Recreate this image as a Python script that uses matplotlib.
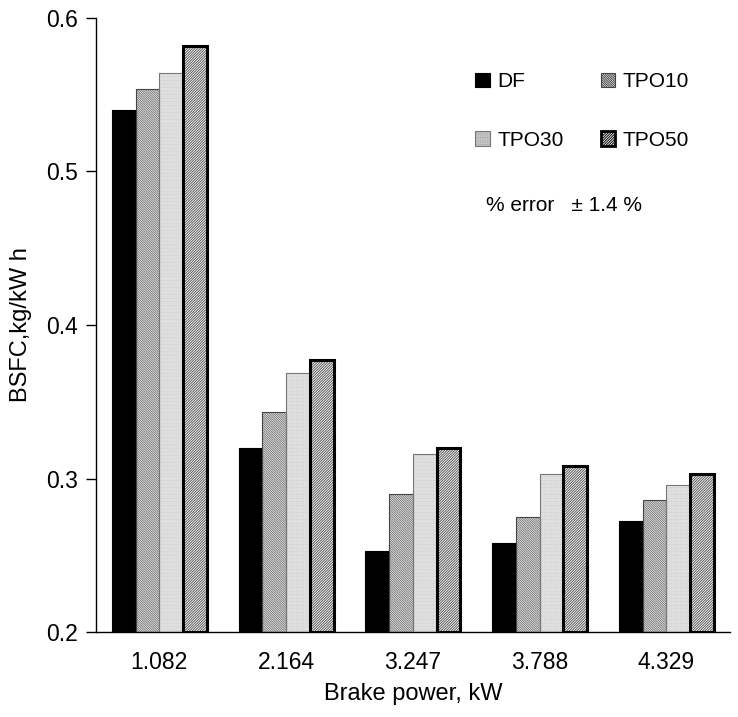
import numpy as np
import matplotlib
matplotlib.use("Agg")
import matplotlib.pyplot as plt
from matplotlib.patches import Patch

plt.rcParams['font.family'] = ['Liberation Sans', 'DejaVu Sans']
plt.rcParams['hatch.linewidth'] = 0.7

# data
power = ["1.082", "2.164", "3.247", "3.788", "4.329"]
df = [0.540, 0.320, 0.253, 0.258, 0.272]
tpo10 = [0.554, 0.343, 0.290, 0.275, 0.286]
tpo30 = [0.564, 0.369, 0.316, 0.303, 0.296]
tpo50 = [0.582, 0.377, 0.320, 0.308, 0.303]

names = ["DF", "TPO10", "TPO30", "TPO50"]
series = [df, tpo10, tpo30, tpo50]
# (face, hatch, hatch colour, edge colour, edge width)
styles = [
    ("black", None, "black", "black", 0.8),
    ("white", "\\" * 15, "#7a7a7a", "#444444", 0.8),
    ("white", "." * 12, "#b8b8b8", "#777777", 0.8),
    ("white", "/" * 13, "#5a5a5a", "black", 2.2),
]

fig = plt.figure(figsize=(7.38, 7.17), dpi=100)
ax = fig.add_axes([0.130, 0.1185, 0.859, 0.8565])

x = np.arange(len(power))
w = 0.187
handles = []
for i, (vals, st) in enumerate(zip(series, styles)):
    face, hatch, hcol, ecol, lw = st
    pos = x + (i - 1.5) * w
    heights = np.array(vals) - 0.2
    ax.bar(pos, heights, w, bottom=0.2, color=face, hatch=hatch,
           edgecolor=hcol, linewidth=0, zorder=2)
    ax.bar(pos, heights, w, bottom=0.2, fill=False, edgecolor=ecol,
           linewidth=lw, zorder=3)
    handles.append(Patch(facecolor=face, hatch=hatch, edgecolor=hcol, linewidth=0))

# legend fills column-wise, reorder to get DF TPO10 / TPO30 TPO50
order = [0, 2, 1, 3]
leg = ax.legend([handles[k] for k in order], [names[k] for k in order],
                ncol=2, frameon=False, fontsize=15, loc='upper left',
                bbox_to_anchor=(0.585, 0.925), handlelength=0.7,
                handleheight=0.7, handletextpad=0.35, columnspacing=1.8,
                labelspacing=1.9, borderaxespad=0)
for p, k in zip(leg.get_patches(), order):
    p.set_edgecolor(styles[k][3])
    p.set_linewidth(2.0 if k == 3 else 0.8)

ax.text(0.615, 0.695, "% error   \u00b1 1.4 %", transform=ax.transAxes,
        fontsize=15, va='center', ha='left')

ax.set_xlim(-0.5, 4.5)
ax.set_ylim(0.2, 0.6)
ax.set_yticks([0.2, 0.3, 0.4, 0.5, 0.6])
ax.set_yticklabels(["0.2", "0.3", "0.4", "0.5", "0.6"])
ax.set_xticks(x)
ax.set_xticklabels(power)
ax.tick_params(axis='y', direction='out', length=7, width=1, labelsize=16.5, pad=6)
ax.tick_params(axis='x', length=0, labelsize=16.5, pad=14)
for s in ['top', 'right']:
    ax.spines[s].set_visible(False)
ax.spines['left'].set_linewidth(1)
ax.spines['bottom'].set_linewidth(1)

ax.set_xlabel("Brake power, kW", fontsize=17, labelpad=6)
ax.set_ylabel("BSFC,kg/kW h", fontsize=17, labelpad=10)

fig.savefig("out.png", dpi=100)
